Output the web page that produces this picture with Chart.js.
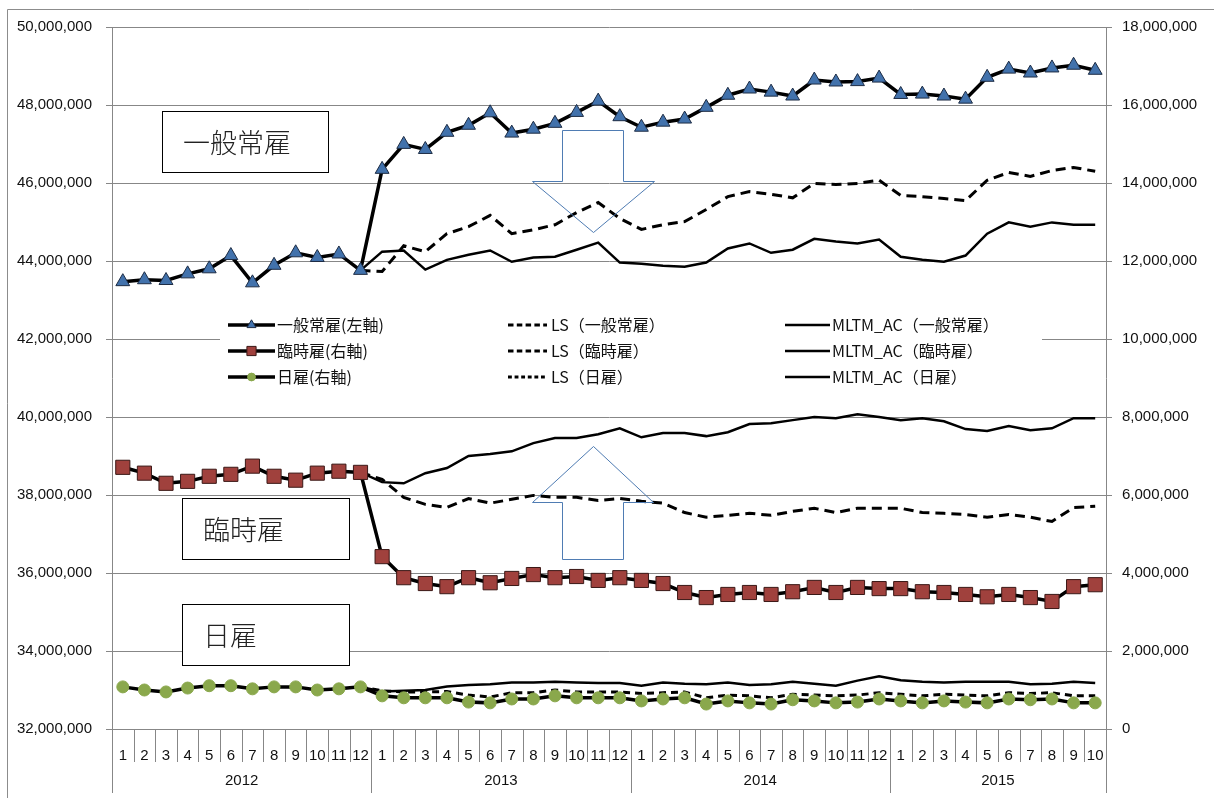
<!DOCTYPE html>
<html>
<head>
<meta charset="utf-8">
<script src="https://cdn.jsdelivr.net/npm/chart.js@4/dist/chart.umd.min.js"></script>
<style>
  html, body { margin: 0; padding: 0; background: #fff; }
  #wrap { width: 1214px; height: 798px; }
</style>
</head>
<body>
<div id="wrap"><canvas id="chart" width="1214" height="798"></canvas></div>
<script>
// categories
const YEARS = ['2012', '2013', '2014', '2015'];
const YEAR_LENGTHS = [12, 12, 12, 10];
const MONTHS = [
  '1', '2', '3', '4', '5', '6', '7', '8', '9', '10', '11', '12',
  '1', '2', '3', '4', '5', '6', '7', '8', '9', '10', '11', '12',
  '1', '2', '3', '4', '5', '6', '7', '8', '9', '10', '11', '12',
  '1', '2', '3', '4', '5', '6', '7', '8', '9', '10'
];

// values in millions
const regular = [
  43.47, 43.52, 43.50, 43.67, 43.80, 44.14, 43.44, 43.89, 44.21, 44.09, 44.18, 43.76,
  46.35, 46.99, 46.86, 47.30, 47.48, 47.80, 47.28, 47.38, 47.53, 47.81, 48.10, 47.70,
  47.43, 47.56, 47.64, 47.94, 48.25, 48.41, 48.33, 48.23, 48.64, 48.59, 48.60, 48.69,
  48.27, 48.28, 48.23, 48.15, 48.71, 48.92, 48.82, 48.95, 49.02, 48.89
];
const lsRegular = [
  null, null, null, null, null, null, null, null, null, null, null, 43.76,
  43.73, 44.39, 44.24, 44.70, 44.88, 45.17, 44.70, 44.80, 44.93, 45.24, 45.50, 45.09,
  44.81, 44.93, 45.01, 45.32, 45.65, 45.78, 45.71, 45.62, 45.99, 45.96, 45.99, 46.07,
  45.68, 45.65, 45.60, 45.55, 46.07, 46.27, 46.17, 46.32, 46.40, 46.30
];
const mltmRegular = [
  null, null, null, null, null, null, null, null, null, null, null, 43.76,
  44.24, 44.27, 43.78, 44.03, 44.16, 44.27, 43.98, 44.09, 44.11, 44.29, 44.47, 43.96,
  43.93, 43.88, 43.85, 43.96, 44.32, 44.45, 44.21, 44.29, 44.57, 44.50, 44.45, 44.55,
  44.11, 44.03, 43.98, 44.14, 44.70, 44.99, 44.88, 44.99, 44.93, 44.93
];
const temporary = [
  6.71, 6.56, 6.30, 6.35, 6.48, 6.53, 6.74, 6.48, 6.38, 6.56, 6.61, 6.58,
  4.42, 3.88, 3.73, 3.65, 3.88, 3.75, 3.86, 3.96, 3.88, 3.91, 3.81, 3.88,
  3.81, 3.73, 3.50, 3.37, 3.45, 3.50, 3.45, 3.52, 3.63, 3.50, 3.63, 3.60,
  3.60, 3.52, 3.50, 3.45, 3.39, 3.45, 3.37, 3.27, 3.65, 3.70
];
const lsTemporary = [
  null, null, null, null, null, null, null, null, null, null, null, 6.58,
  6.40, 5.94, 5.76, 5.68, 5.91, 5.79, 5.89, 5.99, 5.94, 5.94, 5.86, 5.91,
  5.84, 5.79, 5.55, 5.43, 5.48, 5.53, 5.48, 5.58, 5.66, 5.55, 5.66, 5.66,
  5.66, 5.55, 5.53, 5.50, 5.43, 5.50, 5.43, 5.32, 5.68, 5.71
];
const mltmTemporary = [
  null, null, null, null, null, null, null, null, null, null, null, 6.58,
  6.33, 6.30, 6.56, 6.69, 7.00, 7.05, 7.12, 7.33, 7.46, 7.46, 7.56, 7.71,
  7.48, 7.59, 7.59, 7.51, 7.61, 7.82, 7.84, 7.92, 8.00, 7.97, 8.07, 8.00,
  7.92, 7.97, 7.89, 7.69, 7.64, 7.77, 7.66, 7.71, 7.97, 7.97
];
const daily = [
  1.08, 1.00, 0.95, 1.05, 1.11, 1.11, 1.03, 1.08, 1.08, 1.00, 1.03, 1.08,
  0.85, 0.80, 0.80, 0.80, 0.69, 0.67, 0.77, 0.77, 0.85, 0.80, 0.80, 0.80,
  0.72, 0.77, 0.80, 0.64, 0.72, 0.67, 0.64, 0.75, 0.72, 0.67, 0.69, 0.77,
  0.72, 0.67, 0.72, 0.69, 0.67, 0.77, 0.75, 0.77, 0.67, 0.67
];
const lsDaily = [
  null, null, null, null, null, null, null, null, null, null, null, 1.08,
  0.98, 0.95, 0.95, 0.96, 0.87, 0.82, 0.93, 0.93, 1.00, 0.95, 0.95, 0.95,
  0.91, 0.93, 0.95, 0.80, 0.87, 0.85, 0.80, 0.89, 0.87, 0.85, 0.87, 0.93,
  0.89, 0.85, 0.89, 0.87, 0.85, 0.93, 0.91, 0.93, 0.85, 0.85
];
const mltmDaily = [
  null, null, null, null, null, null, null, null, null, null, null, 1.08,
  0.96, 0.98, 1.00, 1.09, 1.13, 1.15, 1.19, 1.19, 1.21, 1.19, 1.18, 1.18,
  1.11, 1.19, 1.16, 1.15, 1.19, 1.13, 1.15, 1.21, 1.16, 1.11, 1.24, 1.35,
  1.25, 1.21, 1.19, 1.21, 1.21, 1.21, 1.15, 1.16, 1.21, 1.18
];

const SERIES_NAMES = [
  '一般常雇(左軸)', '臨時雇(右軸)', '日雇(右軸)',
  'LS（一般常雇）', 'LS（臨時雇）', 'LS（日雇）',
  'MLTM_AC（一般常雇）', 'MLTM_AC（臨時雇）', 'MLTM_AC（日雇）'
];

const AXIS_FONT = {family: '"Liberation Sans", Arial, sans-serif', size: 15};
const CJK = '"Noto Sans CJK JP", "Noto Sans", sans-serif';
const GRID = '#878787';

const toUnits = (arr) => arr.map((v) => (v === null ? null : Math.round(v * 1e6)));

const mainSet = (label, data, axis, style, fill, border, radius) => ({
  label, data: toUnits(data), yAxisID: axis,
  borderColor: '#000', borderWidth: 3.5, tension: 0,
  pointStyle: style, pointRadius: radius, pointBackgroundColor: fill,
  pointBorderColor: border, pointBorderWidth: 1, order: 0
});
const lsSet = (label, data, axis, dash) => ({
  label, data: toUnits(data), yAxisID: axis,
  borderColor: '#000', borderWidth: 3, borderDash: dash, tension: 0,
  pointRadius: 0, order: 2
});
const mltmSet = (label, data, axis) => ({
  label, data: toUnits(data), yAxisID: axis,
  borderColor: '#000', borderWidth: 2.5, tension: 0,
  pointRadius: 0, order: 1
});

const datasets = [
  mainSet(SERIES_NAMES[0], regular, 'y', 'triangle', '#4272ac', '#1d2c44', 8),
  mainSet(SERIES_NAMES[1], temporary, 'y1', 'rect', '#a0413d', '#3a1816', 10),
  mainSet(SERIES_NAMES[2], daily, 'y1', 'circle', '#8aa84c', '#8aa84c', 6),
  lsSet(SERIES_NAMES[3], lsRegular, 'y', [10, 6]),
  lsSet(SERIES_NAMES[4], lsTemporary, 'y1', [10, 6]),
  lsSet(SERIES_NAMES[5], lsDaily, 'y1', [7, 5]),
  mltmSet(SERIES_NAMES[6], mltmRegular, 'y'),
  mltmSet(SERIES_NAMES[7], mltmTemporary, 'y1'),
  mltmSet(SERIES_NAMES[8], mltmDaily, 'y1')
];

// outer frame of the chart object
const framePlugin = {
  id: 'frame',
  beforeDraw(chart) {
    const {ctx} = chart;
    ctx.save();
    ctx.fillStyle = '#fff';
    ctx.fillRect(0, 0, chart.width, chart.height);
    ctx.strokeStyle = '#8c8c8c';
    ctx.lineWidth = 1;
    ctx.beginPath();
    ctx.moveTo(7.5, chart.height);
    ctx.lineTo(7.5, 9.5);
    ctx.lineTo(chart.width, 9.5);
    ctx.stroke();
    ctx.restore();
  }
};

// two level category axis: month cells and year groups
const yearAxisPlugin = {
  id: 'yearAxis',
  afterDraw(chart) {
    const {ctx, chartArea} = chart;
    const xs = chart.scales.x;
    const w = (chartArea.right - chartArea.left) / MONTHS.length;
    const bottom = chartArea.bottom;
    ctx.save();
    ctx.strokeStyle = GRID;
    ctx.lineWidth = 1;
    let start = 0;
    const yearEdges = [0];
    YEAR_LENGTHS.forEach((n) => { start += n; yearEdges.push(start); });
    for (let i = 0; i <= MONTHS.length; i++) {
      const x = Math.round(xs.getPixelForValue(0) - w / 2 + i * w) + 0.5;
      const long = yearEdges.includes(i);
      ctx.beginPath();
      ctx.moveTo(x, bottom);
      ctx.lineTo(x, long ? bottom + 64 : bottom + 33);
      ctx.stroke();
    }
    ctx.fillStyle = '#111';
    ctx.font = `${AXIS_FONT.size}px ${AXIS_FONT.family}`;
    ctx.textAlign = 'center';
    ctx.textBaseline = 'middle';
    YEARS.forEach((y, k) => {
      const mid = (yearEdges[k] + yearEdges[k + 1]) / 2;
      const x = xs.getPixelForValue(0) - w / 2 + mid * w;
      ctx.fillText(y, x, bottom + 52);
    });
    ctx.restore();
  }
};

// text boxes and block arrows laid over the plot
const notesPlugin = {
  id: 'notes',
  afterDraw(chart) {
    const {ctx} = chart;
    ctx.save();
    const boxes = [
      {text: '一般常雇', x: 162, y: 111, w: 166, h: 61},
      {text: '臨時雇', x: 182, y: 498, w: 167, h: 61},
      {text: '日雇', x: 182, y: 604, w: 167, h: 61}
    ];
    boxes.forEach((b) => {
      ctx.fillStyle = '#fff';
      ctx.fillRect(b.x, b.y, b.w, b.h);
      ctx.strokeStyle = '#000';
      ctx.lineWidth = 1;
      ctx.strokeRect(b.x + 0.5, b.y + 0.5, b.w, b.h);
      ctx.fillStyle = '#222';
      ctx.font = `300 27px ${CJK}`;
      ctx.textAlign = 'left';
      ctx.textBaseline = 'middle';
      ctx.fillText(b.text, b.x + 21, b.y + b.h / 2 + 1);
    });

    ctx.strokeStyle = '#4f7cb3';
    ctx.lineWidth = 1;
    const down = [[562, 130], [623, 130], [623, 181], [654, 181], [593, 232], [532, 181], [562, 181]];
    const up = [[562, 559], [623, 559], [623, 502], [653, 502], [593, 446], [532, 502], [562, 502]];
    [down, up].forEach((pts) => {
      ctx.beginPath();
      pts.forEach(([px, py], i) => (i ? ctx.lineTo(px + 0.5, py + 0.5) : ctx.moveTo(px + 0.5, py + 0.5)));
      ctx.closePath();
      ctx.stroke();
    });
    ctx.restore();
  }
};

// three column legend inside the plot area
const legendPlugin = {
  id: 'gridLegend',
  afterDatasetsDraw(chart) {
    const {ctx} = chart;
    const cols = [
      {line: [228, 275], text: 277},
      {line: [508, 547], text: 551},
      {line: [785, 830], text: 832}
    ];
    const rows = [325, 351, 377];
    ctx.save();
    ctx.fillStyle = '#fff';
    ctx.fillRect(220, 312, 822, 78);
    chart.data.datasets.forEach((ds, i) => {
      const c = cols[Math.floor(i / 3)];
      const y = rows[i % 3];
      ctx.strokeStyle = ds.borderColor;
      ctx.lineWidth = ds.borderWidth;
      ctx.setLineDash(ds.borderDash ? ds.borderDash.map((d) => d * 0.55) : []);
      ctx.beginPath();
      ctx.moveTo(c.line[0], y);
      ctx.lineTo(c.line[1], y);
      ctx.stroke();
      ctx.setLineDash([]);
      if (ds.pointRadius > 0) {
        ctx.fillStyle = ds.pointBackgroundColor;
        ctx.strokeStyle = ds.pointBorderColor;
        ctx.lineWidth = 1;
        Chart.helpers.drawPoint(ctx, {
          pointStyle: ds.pointStyle, radius: ds.pointRadius * 0.65, borderWidth: 1, rotation: 0
        }, (c.line[0] + c.line[1]) / 2, y);
      }
      ctx.fillStyle = '#111';
      ctx.font = `16px ${CJK}`;
      ctx.textAlign = 'left';
      ctx.textBaseline = 'middle';
      ctx.fillText(ds.label, c.text, y);
    });
    ctx.restore();
  }
};

const fmt = (v) => Number(v).toLocaleString('en-US');

new Chart(document.getElementById('chart'), {
  type: 'line',
  data: {labels: MONTHS, datasets},
  plugins: [framePlugin, legendPlugin, yearAxisPlugin, notesPlugin],
  options: {
    responsive: false,
    animation: false,
    events: [],
    layout: {padding: {top: 27, left: 0, right: 0, bottom: 0}},
    plugins: {legend: {display: false}, tooltip: {enabled: false}},
    scales: {
      x: {
        type: 'category',
        offset: true,
        grid: {display: false},
        border: {display: false},
        ticks: {autoSkip: false, maxRotation: 0, padding: 10, color: '#111', font: AXIS_FONT},
        afterFit: (s) => { s.height = 69; }
      },
      y: {
        position: 'left',
        min: 32000000, max: 50000000,
        grid: {color: GRID, tickLength: 6, tickColor: GRID},
        border: {color: GRID},
        ticks: {stepSize: 2000000, padding: 14, color: '#111', font: AXIS_FONT, callback: fmt},
        afterFit: (s) => { s.width = 112; }
      },
      y1: {
        position: 'right',
        min: 0, max: 18000000,
        grid: {drawOnChartArea: false, tickLength: 6, tickColor: GRID},
        border: {color: GRID},
        ticks: {stepSize: 2000000, padding: 10, color: '#111', font: AXIS_FONT, callback: fmt},
        afterFit: (s) => { s.width = 108; }
      }
    }
  }
});
</script>
</body>
</html>
